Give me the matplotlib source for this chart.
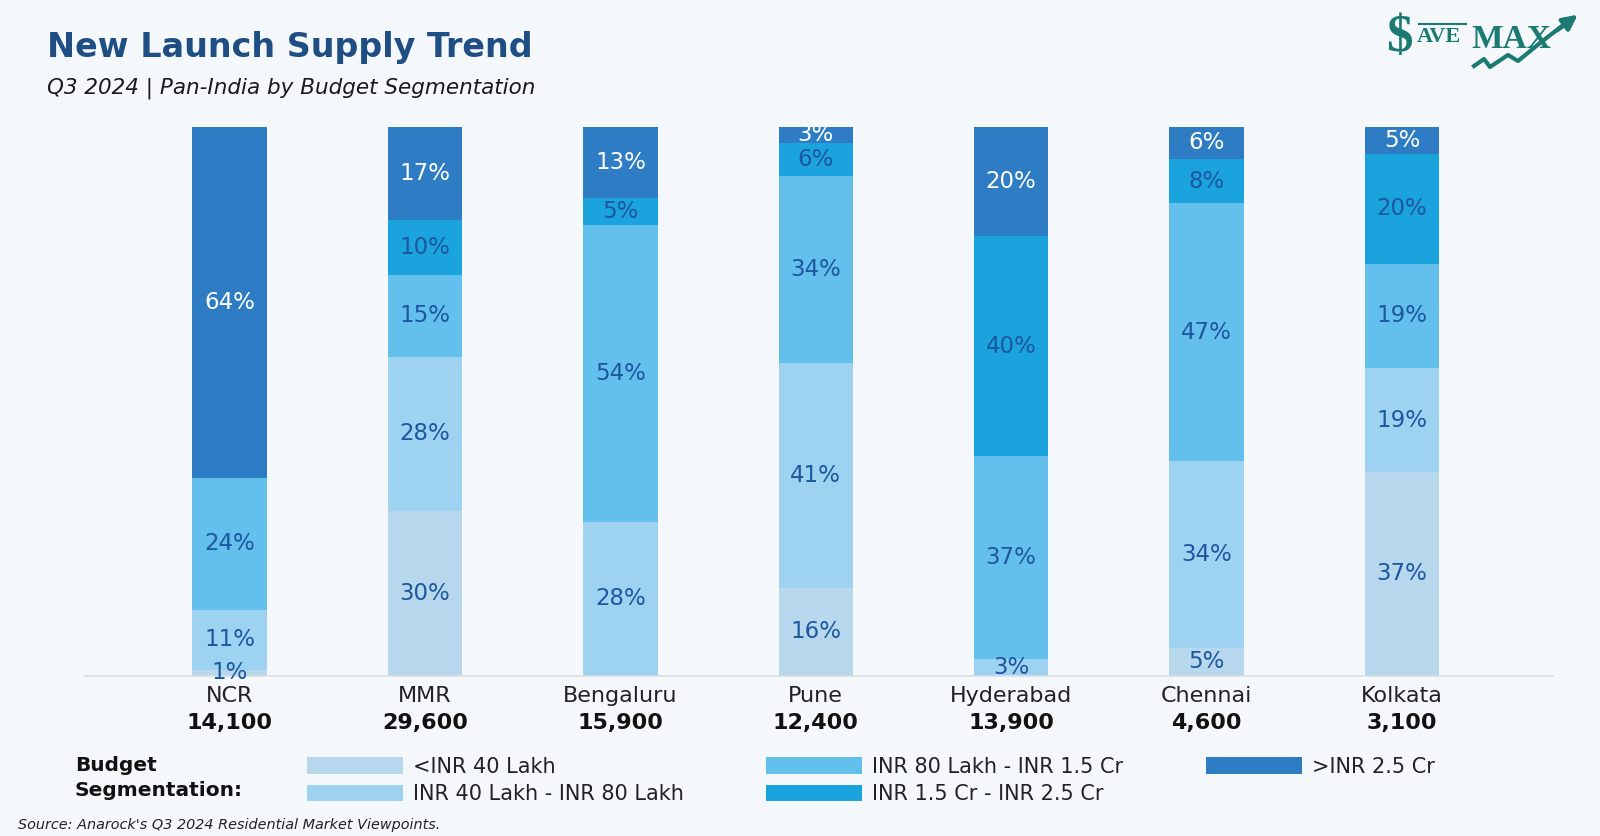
import matplotlib
matplotlib.use('Agg')
import matplotlib.pyplot as plt
from matplotlib.lines import Line2D
from matplotlib.patches import FancyArrowPatch
import numpy as np

plt.rcParams['font.family'] = ['DejaVu Sans']

# data (shares in %)
cities = ['NCR', 'MMR', 'Bengaluru', 'Pune', 'Hyderabad', 'Chennai', 'Kolkata']
units = ['14,100', '29,600', '15,900', '12,400', '13,900', '4,600', '3,100']
segments = ['<INR 40 Lakh', 'INR 40 Lakh - INR 80 Lakh', 'INR 80 Lakh - INR 1.5 Cr',
            'INR 1.5 Cr - INR 2.5 Cr', '>INR 2.5 Cr']
below_40l = [1, 30, 0, 16, 0, 5, 37]
l40_to_80l = [11, 28, 28, 41, 3, 34, 19]
l80_to_1_5cr = [24, 15, 54, 34, 37, 47, 19]
cr1_5_to_2_5 = [0, 10, 5, 6, 40, 8, 20]
above_2_5cr = [64, 17, 13, 3, 20, 6, 5]

seg_colors = ['#b7d8ec', '#9dd2f1', '#63bfec', '#1aa3dc', '#2e7cc3']
label_colors = ['#1d57a0', '#1d57a0', '#1d57a0', '#1d57a0', 'white']

W, H = 1600, 836
fig = plt.figure(figsize=(W / 100, H / 100), dpi=100)
fig.patch.set_facecolor('#f5f8fb')

def fx(px):
    return px / W

def fy(py):
    return 1 - py / H

ax = fig.add_axes([fx(85), fy(675.5), fx(1553) - fx(85), fy(126.5) - fy(675.5)])
ax.set_facecolor('none')

x = np.arange(len(cities))
bar_w = 0.38
bottom = np.zeros(len(cities))
handles = []
for vals, name, col, lcol in zip(
        [below_40l, l40_to_80l, l80_to_1_5cr, cr1_5_to_2_5, above_2_5cr],
        segments, seg_colors, label_colors):
    vals = np.array(vals, dtype=float)
    bars = ax.bar(x, vals, bar_w, bottom=bottom, color=col, label=name, linewidth=0)
    handles.append(bars)
    for xi, v, b in zip(x, vals, bottom):
        if v > 0:
            ax.text(xi, b + v / 2, f'{int(v)}%', ha='center', va='center',
                    fontsize=16.5, color=lcol)
    bottom += vals

ax.set_xlim(-0.74, 6.773)
ax.set_ylim(0, 100)
for s in ['top', 'right', 'left']:
    ax.spines[s].set_visible(False)
ax.spines['bottom'].set_color('#d9dee4')
ax.spines['bottom'].set_linewidth(1.2)
ax.set_yticks([])
ax.set_xticks(x)
ax.set_xticklabels(cities, fontsize=16, color='#222222')
ax.tick_params(axis='x', length=0, pad=7.5)
for xi, u in zip(x, units):
    ax.annotate(u, xy=(xi, 0), xycoords=('data', 'axes fraction'),
                xytext=(0, -34.5), textcoords='offset points', ha='center', va='center',
                fontsize=16, fontweight='bold', color='#111111')

# titles
fig.text(fx(47), fy(47), 'New Launch Supply Trend', fontsize=24, fontweight='bold',
         color='#1f4e84', va='center', ha='left')
fig.text(fx(47), fy(88), 'Q3 2024 | Pan-India by Budget Segmentation', fontsize=15.5,
         style='italic', color='#1a1a1a', va='center', ha='left')

# legend
fig.text(fx(75), fy(778), 'Budget\nSegmentation:', fontsize=14.5, fontweight='bold',
         color='#111111', va='center', ha='left', linespacing=1.4)
fig.legend(handles=handles, labels=segments, loc='upper left',
           bbox_to_anchor=(fx(288), fy(738)), ncol=3, frameon=False, fontsize=15,
           handlelength=4.6, handleheight=0.85, handletextpad=0.5, columnspacing=3.95,
           labelspacing=0.35, labelcolor='#222222')

fig.text(fx(18), fy(825), "Source: Anarock's Q3 2024 Residential Market Viewpoints.",
         fontsize=10.4, style='italic', color='#222222', va='center', ha='left')

# logo
teal = '#1b7b72'
fig.text(fx(1386), fy(38), '$', fontsize=38, fontweight='bold', color=teal,
         family='Liberation Serif', va='center', ha='left')
fig.text(fx(1417), fy(37), 'AVE', fontsize=16, fontweight='bold', color=teal,
         family='Liberation Serif', va='center', ha='left')
fig.add_artist(Line2D([fx(1419), fx(1466)], [fy(24), fy(24)], color=teal, lw=1.5))
fig.text(fx(1471), fy(40), 'MAX', fontsize=24, fontweight='bold', color=teal,
         family='Liberation Serif', va='center', ha='left')
zig_x = [1474, 1484, 1490, 1508, 1518, 1540, 1562]
zig_y = [66, 59, 67, 55, 61, 43, 26]
fig.add_artist(Line2D([fx(v) for v in zig_x], [fy(v) for v in zig_y], color=teal, lw=3))
fig.add_artist(FancyArrowPatch(
    (fx(1555), fy(32)), (fx(1580), fy(13)), transform=fig.transFigure,
    arrowstyle='-|>', mutation_scale=22, color=teal, lw=3))

fig.savefig('out.png', dpi=100, facecolor=fig.get_facecolor())
